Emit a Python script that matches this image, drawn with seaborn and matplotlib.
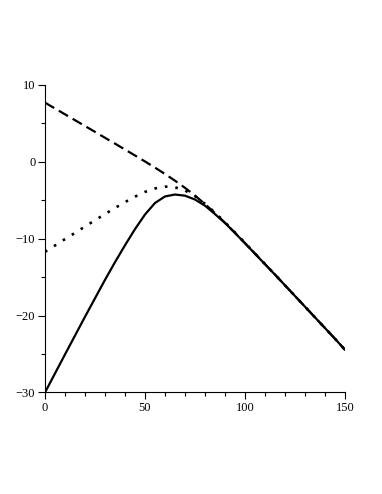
import matplotlib
matplotlib.use("Agg")
import matplotlib.pyplot as plt
import seaborn as sns
from matplotlib.ticker import MultipleLocator

# values
x_vals = [0, 5, 10, 15, 20, 25, 30, 35, 40, 45, 50, 55, 60, 65, 70, 75,
          80, 85, 90, 95, 100, 105, 110, 115, 120, 125, 130, 135, 140, 145, 150]
solid = [-30.0, -27.52, -25.05, -22.6, -20.15, -17.75, -15.35, -13.05, -10.85,
         -8.75, -6.85, -5.35, -4.5, -4.25, -4.4, -4.9, -5.7, -6.8, -7.95,
         -9.25, -10.6, -11.95, -13.32, -14.67, -16.06, -17.45, -18.84,
         -20.23, -21.62, -23.01, -24.45]
dotted = [-11.7, -10.88, -10.05, -9.24, -8.41, -7.6, -6.79, -6.0, -5.24,
          -4.53, -3.91, -3.46, -3.22, -3.31, -3.72, -4.46, -5.46, -6.61,
          -7.87, -9.19, -10.54, -11.91, -13.29, -14.67, -16.06, -17.45,
          -18.84, -20.23, -21.62, -23.01, -24.45]
dashed = [7.7, 6.94, 6.18, 5.42, 4.66, 3.9, 3.13, 2.37, 1.6, 0.83, 0.05,
          -0.75, -1.58, -2.45, -3.38, -4.39, -5.49, -6.67, -7.93, -9.23,
          -10.57, -11.93, -13.3, -14.67, -16.06, -17.45, -18.84, -20.23,
          -21.62, -23.01, -24.45]

sns.set_style("ticks")
plt.rcParams['font.family'] = ['Liberation Serif', 'DejaVu Serif']

fig = plt.figure(figsize=(3.82, 4.94), dpi=100)
ax = fig.add_axes([0.1178, 0.2055, 0.7853, 0.6225])

sns.lineplot(x=x_vals, y=solid, ax=ax, color="black", linewidth=1.6)
sns.lineplot(x=x_vals, y=dotted, ax=ax, color="black", linewidth=1.9,
             linestyle=(0, (1, 3.0)))
sns.lineplot(x=x_vals, y=dashed, ax=ax, color="black", linewidth=1.6,
             linestyle=(0, (4.8, 2.4)))

ax.set_xlim(0, 150)
ax.set_ylim(-30, 10)
ax.set_xticks([0, 50, 100, 150])
ax.set_yticks([-30, -20, -10, 0, 10])
ax.xaxis.set_minor_locator(MultipleLocator(10))
ax.yaxis.set_minor_locator(MultipleLocator(5))
ax.tick_params(which="major", length=5, width=0.8, labelsize=9, colors="black", pad=2)
ax.tick_params(which="minor", length=3, width=0.8, color="black")
sns.despine(ax=ax)
for s in ["left", "bottom"]:
    ax.spines[s].set_linewidth(0.8)
    ax.spines[s].set_color("black")

fig.savefig("out.png", dpi=100)
